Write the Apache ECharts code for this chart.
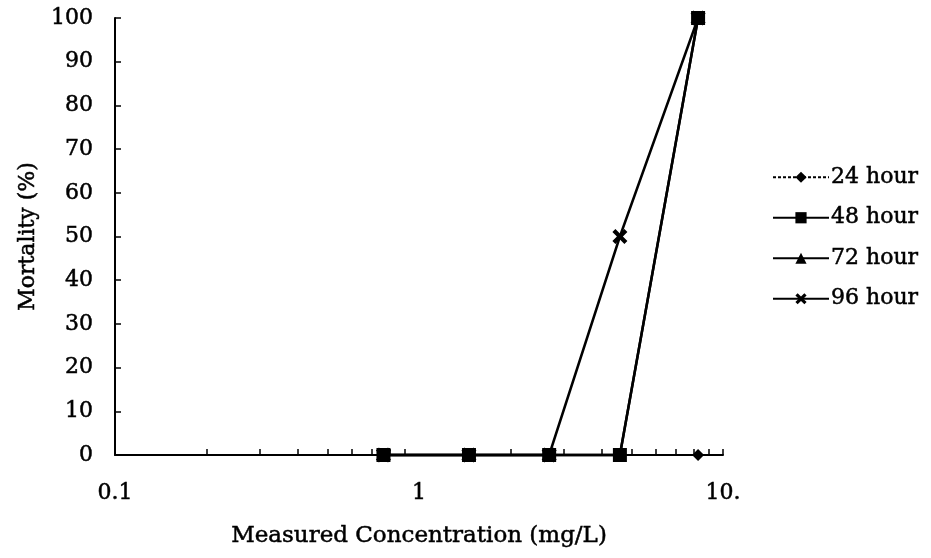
<!DOCTYPE html>
<html>
<head>
<meta charset="utf-8">
<script src="https://cdn.jsdelivr.net/npm/echarts@6/dist/echarts.min.js"></script>
<style>html,body{margin:0;padding:0;background:#fff}#c{width:931px;height:558px}</style>
</head>
<body>
<div id="c"></div>
<script>
// ---- data ----
var concentrations = [0.764, 1.46, 2.68, 4.58, 8.28];
var mortality24 = [0, 0, 0, 0, 0];
var mortality48 = [0, 0, 0, 0, 100];
var mortality72 = [0, 0, 0, 0, 100];
var mortality96 = [0, 0, 0, 50, 100];
var seriesNames = ['24 hour', '48 hour', '72 hour', '96 hour'];
var xTickLabels = ['0.1', '1', '10.'];
var xMinorTicks = [0.2,0.3,0.4,0.5,0.6,0.7,0.8,0.9,2,3,4,5,6,7,8,9,10];

var FONT = 'DejaVu Serif';
var xSymbol = 'path://M0,2L2,0L5,3L8,0L10,2L7,5L10,8L8,10L5,7L2,10L0,8L3,5Z';
var heavy = { textBorderColor:'#000', textBorderWidth:0.5 };

function pairs(vals){ return concentrations.map(function(c,i){ return [c, vals[i]]; }); }
function txt(size, extra){ return Object.assign({ fontFamily:FONT, fontSize:size, color:'#000' }, heavy, extra||{}); }

var chart = echarts.init(document.getElementById('c'));
var common = { type:'line', xAxisIndex:0, yAxisIndex:0, clip:false,
  lineStyle:{ color:'#000', width:2.5 }, itemStyle:{ color:'#000' } };
function mk(name, vals, symbol, size, extra){
  var s = Object.assign({}, common, { name:name, data:pairs(vals), symbol:symbol, symbolSize:size, showSymbol:true });
  return Object.assign(s, extra||{});
}
chart.setOption({
  animation:false,
  backgroundColor:'#fff',
  textStyle:{ fontFamily:FONT, color:'#000' },
  grid:{ left:115, right:208, top:18, bottom:103, containLabel:false },
  legend:{
    orient:'vertical', left:772, top:166, padding:0, itemWidth:56, itemHeight:14, itemGap:18,
    textStyle:txt(22, { padding:[0,0,0,-3] }),
    data:seriesNames
  },
  xAxis:[{
    type:'log', logBase:10, min:0.1, max:10,
    name:'Measured Concentration (mg/L)', nameLocation:'middle', nameGap:70,
    nameTextStyle:txt(23),
    axisLine:{ onZero:false, lineStyle:{ color:'#000', width:2 } },
    axisTick:{ show:false },
    axisLabel:Object.assign(txt(22), { margin:27,
      formatter:function(v){ var i=Math.round(Math.log10(v))+1; return xTickLabels[i]; } }),
    splitLine:{ show:false }
  },{
    type:'value', min:-1, max:1, position:'bottom',
    axisLine:{ show:false, onZero:false },
    axisLabel:{ show:false },
    axisTick:{ show:true, inside:true, length:6, lineStyle:{ color:'#000', width:1.5 },
      customValues: xMinorTicks.map(function(v){ return Math.log10(v); }) },
    splitLine:{ show:false }
  }],
  yAxis:{
    type:'value', min:0, max:100, interval:10,
    name:'Mortality (%)', nameLocation:'middle', nameGap:74,
    nameTextStyle:txt(22),
    axisLine:{ show:true, onZero:false, lineStyle:{ color:'#000', width:2 } },
    axisTick:{ show:true, inside:true, length:6, lineStyle:{ color:'#000', width:1.5 } },
    axisLabel:Object.assign(txt(22), { margin:22 }),
    splitLine:{ show:false }
  },
  series:[
    mk(seriesNames[0], mortality24, 'diamond', 12, { lineStyle:{ color:'#000', width:1.5, type:[3,2] } }),
    mk(seriesNames[3], mortality96, xSymbol, 15),
    mk(seriesNames[2], mortality72, 'triangle', 13),
    mk(seriesNames[1], mortality48, 'rect', 14)
  ]
});
</script>
</body>
</html>
